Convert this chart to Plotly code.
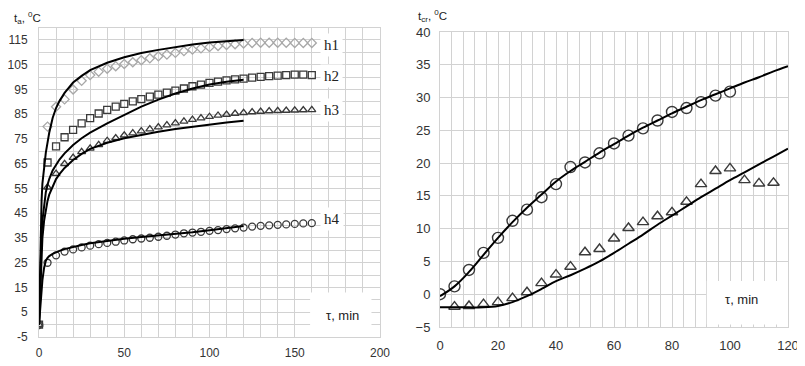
import plotly.graph_objects as go

# ---------------- Left chart data (t_a vs tau) ----------------
tau_m = [0, 5, 10, 15, 20, 25, 30, 35, 40, 45, 50, 55, 60, 65, 70, 75, 80,
         85, 90, 95, 100, 105, 110, 115, 120, 125, 130, 135, 140, 145, 150, 155, 160]
h1_meas = [0, 80, 88, 91, 95, 98.5, 100.8, 102.2, 103.4, 104.4, 105.3, 106, 106.8, 107.6,
           108.4, 109.1, 109.8, 110.5, 111.1, 111.6, 112.1, 112.6, 113, 113.3, 113.6,
           113.8, 113.9, 113.9, 113.9, 113.9, 113.8, 113.8, 113.8]
h2_meas = [0, 65.5, 72, 75.7, 78.7, 81.3, 83.4, 85.3, 86.8, 88.1, 89.2, 90.2, 91.1, 92.1,
           92.9, 93.7, 94.5, 95.4, 96.3, 97, 97.7, 98.2, 98.7, 99.1, 99.4, 99.8, 100.1,
           100.4, 100.6, 100.8, 101, 101, 100.8]
h3_meas = [0, 55.5, 61, 65, 67.5, 69.8, 71.2, 72.6, 74.3, 75.4, 76.5, 77.4, 78.2, 79,
           79.8, 80.6, 81.4, 82.1, 82.8, 83.4, 84, 84.5, 84.9, 85.3, 85.6, 85.9, 86.1,
           86.3, 86.4, 86.5, 86.6, 86.7, 86.8]
h4_meas = [0, 25, 28, 29.5, 30.4, 31.2, 31.9, 32.5, 33, 33.5, 34, 34.5, 34.8, 35.1, 35.5,
           35.9, 36.4, 36.9, 37.2, 37.5, 37.9, 38.2, 38.6, 38.9, 39.2, 39.6, 39.9, 40.1,
           40.3, 40.5, 40.7, 40.9, 41]

tau_c = [0, 0.5, 1, 1.5, 2, 3, 4, 5, 6, 8, 10, 12, 15, 20, 25, 30, 40, 50, 60, 70,
         80, 90, 100, 110, 120]
h1_calc = [0, 20, 38, 50, 57, 64.5, 69.5, 73.5, 77.5, 83.5, 87.5, 90.3, 93.6, 97.8,
           100.5, 102.8, 105.8, 108, 109.7, 111, 112.2, 113.2, 114, 114.6, 115]
h2_calc = [0, 14, 27, 36, 42, 49, 53.5, 56.5, 58.8, 62.3, 64.8, 66.7, 69.2, 72.6,
           75.3, 77.6, 81.3, 84.6, 88.1, 90.9, 93.4, 95.4, 97, 98.1, 98.9]
h3_calc = [0, 11, 22, 30, 35, 42, 46.5, 50, 52.5, 56, 58.8, 60.8, 63.3, 66.5,
           69, 71, 73.5, 75.3, 76.7, 77.9, 79, 80, 80.9, 81.7, 82.4]
h4_calc = [0, 5, 10, 14.5, 18, 23, 25.8, 27, 27.7, 28.6, 29.3, 29.8, 30.5, 31.5,
           32.2, 32.9, 33.9, 34.7, 35.4, 36, 36.6, 37.3, 38.1, 38.9, 39.8]

left_y_ticks = [-5, 5, 15, 25, 35, 45, 55, 65, 75, 85, 95, 105, 115]

# ---------------- Right chart data (t_cr vs tau) ----------------
tau_r1 = [0, 5, 10, 15, 20, 25, 30, 35, 40, 45, 50, 55, 60, 65, 70, 75, 80, 85, 90, 95, 100]
cr1_meas = [0, 1.2, 3.7, 6.3, 8.6, 11.2, 12.9, 14.8, 16.8, 19.4, 20.1, 21.5, 23.0, 24.2,
            25.3, 26.5, 27.8, 28.4, 29.3, 30.3, 30.9]
tau_r2 = [5, 10, 15, 20, 25, 30, 35, 40, 45, 50, 55, 60, 65, 70, 75, 80, 85, 90, 95,
          100, 105, 110, 115]
cr2_meas = [-1.9, -1.8, -1.5, -1.2, -0.6, 0.3, 1.7, 3.0, 4.2, 6.4, 6.9, 8.5, 10.1, 11.0,
            11.9, 12.5, 14.1, 16.8, 18.8, 19.2, 17.4, 16.9, 17.0]
tau_rc = [0, 5, 10, 15, 20, 25, 30, 35, 40, 45, 50, 55, 60, 65, 70, 75, 80, 85, 90,
          95, 100, 105, 110, 115, 120]
cr1_calc = [-0.3, 1.2, 3.4, 6.0, 8.6, 11.0, 13.2, 15.2, 17.2, 18.8, 20.2, 21.6, 22.9,
            24.2, 25.4, 26.5, 27.6, 28.6, 29.6, 30.5, 31.4, 32.3, 33.1, 34.0, 34.8]
cr2_calc = [-2.0, -2.0, -2.0, -2.0, -1.8, -1.2, -0.3, 0.8, 2.0, 2.9, 3.9, 5.0, 6.3, 7.7,
            9.1, 10.6, 12.0, 13.4, 14.8, 16.1, 17.4, 18.6, 19.8, 21.0, 22.2]

GRID = "#d2d2d2"
TICKC = "#333333"
MK = "#3a3a3a"

fig = go.Figure()

def meas(x, y, symbol, color, size, xa="x", ya="y", lw=1.3):
    fig.add_trace(go.Scatter(x=x, y=y, mode="markers", xaxis=xa, yaxis=ya,
                             marker=dict(symbol=symbol, size=size, color=color,
                                         line=dict(color=color, width=lw)),
                             showlegend=False, hoverinfo="x+y"))

def calc(x, y, xa="x", ya="y", shape="linear"):
    fig.add_trace(go.Scatter(x=x, y=y, mode="lines", xaxis=xa, yaxis=ya,
                             line=dict(color="#000000", width=2, shape=shape),
                             showlegend=False, hoverinfo="x+y"))

# left chart
meas(tau_m, h1_meas, "diamond-open", "#a8a8a8", 7)
meas(tau_m, h2_meas, "square-open", MK, 7)
meas(tau_m, h3_meas, "triangle-up-open", MK, 7)
meas(tau_m, h4_meas, "circle-open", MK, 7)
calc(tau_c, h1_calc)
calc(tau_c, h2_calc)
calc(tau_c, h3_calc)
calc(tau_c, h4_calc)

# right chart
meas(tau_r1, cr1_meas, "circle-open", MK, 11, "x2", "y2", 1.4)
meas(tau_r2, cr2_meas, "triangle-up-open", MK, 10, "x2", "y2", 1.4)
calc(tau_rc, cr1_calc, "x2", "y2", "spline")
calc(tau_rc, cr2_calc, "x2", "y2", "spline")

# the page body has an 8px margin, so the figure is drawn from (8, 8)
OFF = 8
W, H = 805, 366
def px_x(a, b):
    return [(a - OFF) / W, (b - OFF) / W]
def px_y(top, bottom):
    return [1 - (bottom - OFF) / H, 1 - (top - OFF) / H]
def pos(xp, yp):
    return (xp - OFF) / W, 1 - (yp - OFF) / H

def axis_common(size):
    return dict(showgrid=True, gridcolor=GRID, gridwidth=1, zeroline=False,
                showline=True, linecolor=GRID, mirror=True, ticks="", automargin=False,
                tickfont=dict(family="Liberation Sans, Arial", size=size, color=TICKC))

# left y: gridlines every 5, labels every 10 starting at -5
ly_vals = [v for v in range(-5, 121, 5)]
ly_text = [str(v) if v in left_y_ticks else "" for v in ly_vals]

fig.update_layout(
    width=W, height=H, margin=dict(l=0, r=0, t=0, b=0, autoexpand=False),
    paper_bgcolor="white", plot_bgcolor="white",
    xaxis=dict(domain=px_x(39, 380), range=[0, 200], tick0=0, dtick=50,
               minor=dict(dtick=10, showgrid=True, gridcolor=GRID),
               ticklabelstandoff=5, anchor="y", **axis_common(12)),
    yaxis=dict(domain=px_y(27.6, 337), range=[-5, 120], tickmode="array",
               tickvals=ly_vals, ticktext=ly_text,
               ticklabelstandoff=8, anchor="x", **axis_common(12)),
    xaxis2=dict(domain=px_x(440, 788), range=[0, 120], tick0=0, dtick=20,
                minor=dict(dtick=4, showgrid=True, gridcolor=GRID),
                ticklabelstandoff=6, anchor="y2", **axis_common(13)),
    yaxis2=dict(domain=px_y(32, 327), range=[-5, 40], tick0=-5, dtick=5,
                ticklabelstandoff=6, anchor="x2", **axis_common(13)),
)

serif = dict(family="Liberation Serif, Times New Roman", size=15, color="#222222")
sans = dict(family="Liberation Sans, Arial", size=13, color="#222222")
sans_t = dict(family="Liberation Sans, Arial", size=11.5, color="#222222")

for txt, yv in [("h1", 113), ("h2", 100.5), ("h3", 86.7), ("h4", 42.6)]:
    fig.add_annotation(x=165, y=yv, xref="x", yref="y", text=txt, showarrow=False,
                       xanchor="left", yanchor="middle", font=serif,
                       bgcolor="white", borderpad=3)

fig.add_shape(type="rect", xref="x", yref="y", x0=159, x1=195, y0=-5, y1=13,
              fillcolor="white", line=dict(width=0), layer="above")
fig.add_annotation(x=178, y=3.5, xref="x", yref="y", text="τ, min", showarrow=False,
                   font=sans)

fig.add_shape(type="rect", xref="x2", yref="y2", x0=92, x1=120, y0=-4.6, y1=2,
              fillcolor="white", line=dict(width=0), layer="above")
fig.add_annotation(x=104, y=-0.8, xref="x2", yref="y2", text="τ, min", showarrow=False,
                   font=sans)

ax, ay = pos(12, 18)
fig.add_annotation(x=ax, y=ay, xref="paper", yref="paper",
                   text="t<sub>a</sub>, <sup>0</sup>C", showarrow=False,
                   xanchor="left", yanchor="middle", font=sans_t)
bx, by = pos(416, 16)
fig.add_annotation(x=bx, y=by, xref="paper", yref="paper",
                   text="t<sub>cr</sub>, <sup>0</sup>C", showarrow=False,
                   xanchor="left", yanchor="middle", font=sans_t)

fig.write_html("out.html")
